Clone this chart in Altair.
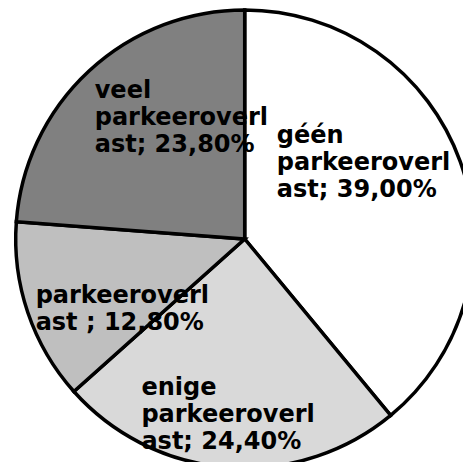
import altair as alt
import pandas as pd

categories = ["géén parkeeroverlast", "enige parkeeroverlast", "parkeeroverlast", "veel parkeeroverlast"]
values = [39.0, 24.4, 12.8, 23.8]
labels = [
    "géén\nparkeeroverl\nast; 39,00%",
    "enige\nparkeeroverl\nast; 24,40%",
    "parkeeroverl\nast ; 12,80%",
    "veel\nparkeeroverl\nast; 23,80%",
]
colors = ["#ffffff", "#d9d9d9", "#bfbfbf", "#808080"]

df = pd.DataFrame({
    "idx": list(range(len(categories))),
    "category": categories,
    "value": values,
    "label": labels,
})

CX, CY, R = 236.7, 231.0, 229
theta_scale = alt.Scale(domain=[0, 100])

base = alt.Chart(df)

arcs = base.mark_arc(stroke="black", strokeWidth=3.5).encode(
    theta=alt.Theta("value:Q", stack=True, scale=theta_scale),
    order=alt.Order("idx:Q"),
    color=alt.Color("category:N", scale=alt.Scale(domain=categories, range=colors), legend=None),
    x=alt.value(CX),
    y=alt.value(CY),
    radius=alt.value(R),
)

# label nudges from slice mid-angle anchor (style only)
nudges = {
    categories[0]: (-109, -45.2),
    categories[1]: (-92, 6.3),
    categories[2]: (-67, 15.8),
    categories[3]: (-48, -30.7),
}

layers = [arcs]
for cat, (ddx, ddy) in nudges.items():
    t = (
        base.transform_window(cum="sum(value)", sort=[alt.SortField("idx")])
        .transform_calculate(mid="datum.cum - datum.value / 2")
        .transform_filter(alt.datum.category == cat)
        .mark_text(
            align="left",
            baseline="alphabetic",
            font="DejaVu Sans",
            fontWeight="bold",
            fontSize=24,
            lineHeight=27,
            lineBreak="\n",
            color="black",
            dx=ddx,
            dy=ddy,
        )
        .encode(
            theta=alt.Theta("mid:Q", stack=None, scale=theta_scale),
            text="label:N",
            x=alt.value(CX),
            y=alt.value(CY),
            radius=alt.value(150),
        )
    )
    layers.append(t)

chart = (
    alt.layer(*layers)
    .properties(width=455, height=454, padding=0, autosize="none", background="white")
    .configure_view(stroke=None)
)

chart.save("out.html", embed_options={"renderer": "svg", "actions": False})
